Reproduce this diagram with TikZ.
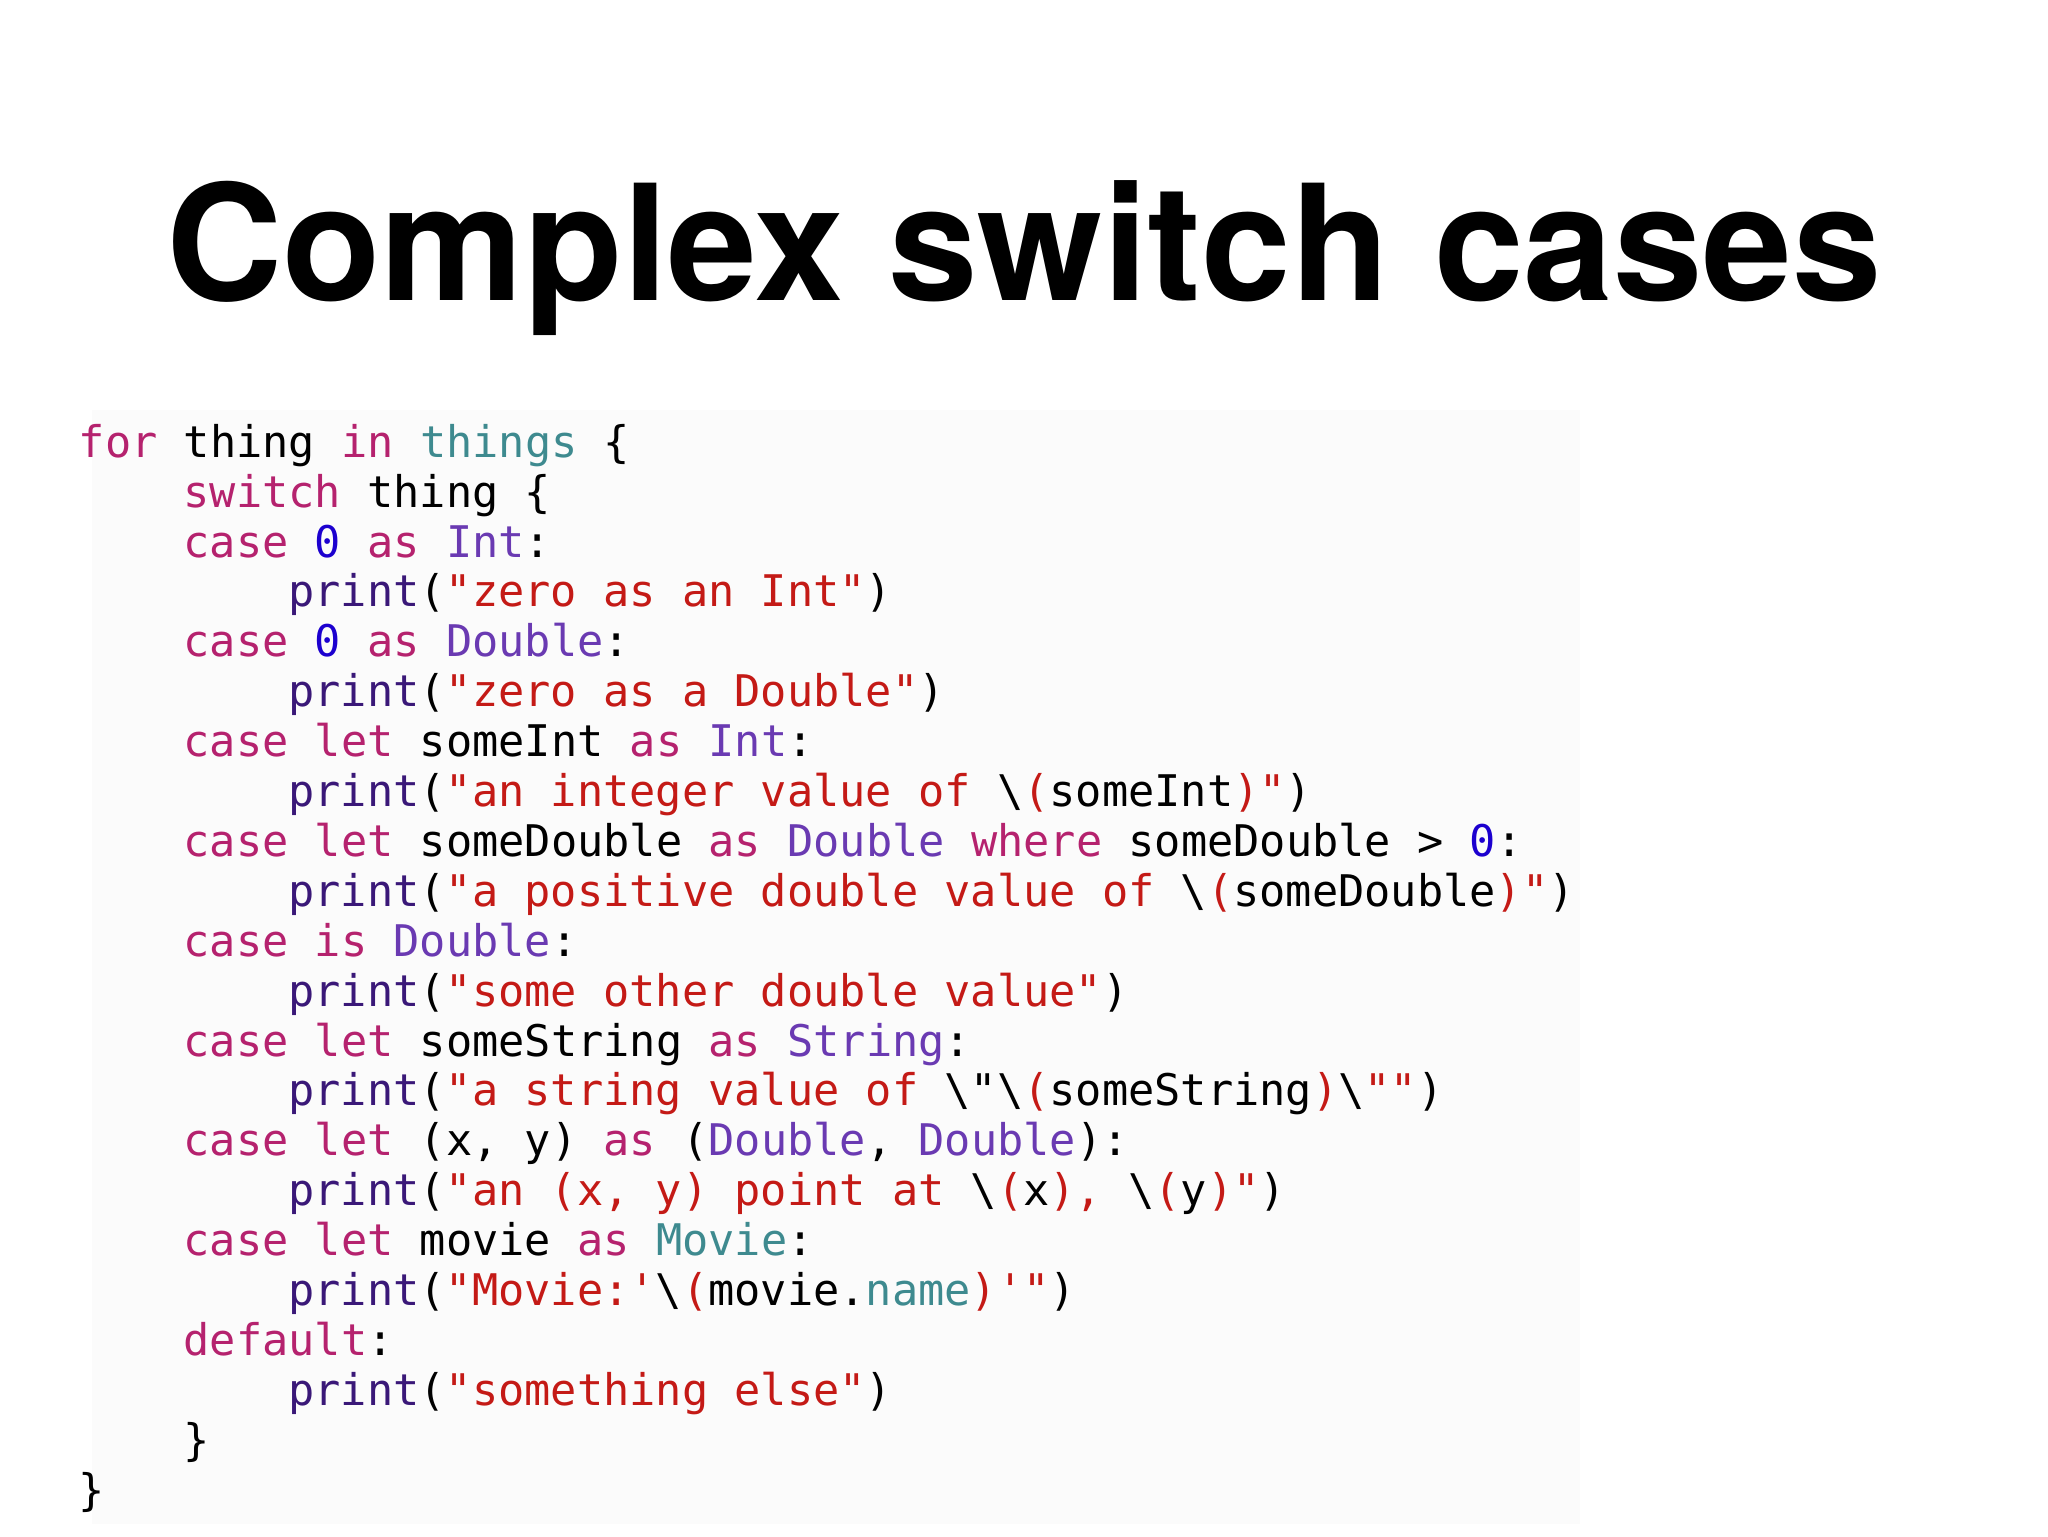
\documentclass[tikz,border=0pt]{standalone}
\usepackage{fontspec}
\setmainfont{TeX Gyre Heros}
\setmonofont{DejaVu Sans Mono}
\definecolor{kwc}{HTML}{B5226E}
\definecolor{tyc}{HTML}{6A3AB2}
\definecolor{stc}{HTML}{C41A16}
\definecolor{nmc}{HTML}{1C00CF}
\definecolor{prc}{HTML}{3A1878}
\definecolor{tlc}{HTML}{3E8A8F}
\newcommand{\kw}[1]{\textcolor{kwc}{#1}}
\newcommand{\ty}[1]{\textcolor{tyc}{#1}}
\newcommand{\st}[1]{\textcolor{stc}{#1}}
\newcommand{\nm}[1]{\textcolor{nmc}{#1}}
\newcommand{\pr}[1]{\textcolor{prc}{#1}}
\newcommand{\tl}[1]{\textcolor{tlc}{#1}}
\newcommand{\bs}{\textbackslash}
\begin{document}
\begin{tikzpicture}[x=1pt,y=1pt,
  code/.style={anchor=base west,inner sep=0pt,font=\ttfamily\fontsize{21.8}{25}\selectfont}]
\useasboundingbox (0,0) rectangle (1024,-768);
\fill[white] (0,0) rectangle (1024,-768);
\fill[black!1.5] (46,-205) rectangle (790,-762);
\node[anchor=base,inner sep=0pt,font=\bfseries\fontsize{80.5}{90}\selectfont] (title) at (512,-150) {Complex switch cases};
\def\cw{13.1}
\def\lh{24.95}
\newcommand{\cl}[3]{\node[code] (l#1) at (39.2+#2*\cw, -228.6-#1*\lh+\lh) {#3};}
\cl{1}{0}{\kw{for} thing \kw{in} \tl{things} \{}
\cl{2}{4}{\kw{switch} thing \{}
\cl{3}{4}{\kw{case} \nm{0} \kw{as} \ty{Int}:}
\cl{4}{8}{\pr{print}(\st{"zero as an Int"})}
\cl{5}{4}{\kw{case} \nm{0} \kw{as} \ty{Double}:}
\cl{6}{8}{\pr{print}(\st{"zero as a Double"})}
\cl{7}{4}{\kw{case} \kw{let} someInt \kw{as} \ty{Int}:}
\cl{8}{8}{\pr{print}(\st{"an integer value of }\bs\st{(}someInt\st{)"})}
\cl{9}{4}{\kw{case} \kw{let} someDouble \kw{as} \ty{Double} \kw{where} someDouble > \nm{0}:}
\cl{10}{8}{\pr{print}(\st{"a positive double value of }\bs\st{(}someDouble\st{)"})}
\cl{11}{4}{\kw{case} \kw{is} \ty{Double}:}
\cl{12}{8}{\pr{print}(\st{"some other double value"})}
\cl{13}{4}{\kw{case} \kw{let} someString \kw{as} \ty{String}:}
\cl{14}{8}{\pr{print}(\st{"a string value of }\bs"\bs\st{(}someString\st{)}\bs\st{""})}
\cl{15}{4}{\kw{case} \kw{let} (x, y) \kw{as} (\ty{Double}, \ty{Double}):}
\cl{16}{8}{\pr{print}(\st{"an (x, y) point at }\bs\st{(}x\st{), }\bs\st{(}y\st{)"})}
\cl{17}{4}{\kw{case} \kw{let} movie \kw{as} \tl{Movie}:}
\cl{18}{8}{\pr{print}(\st{"Movie:'}\bs\st{(}movie.\tl{name}\st{)'"})}
\cl{19}{4}{\kw{default}:}
\cl{20}{8}{\pr{print}(\st{"something else"})}
\cl{21}{4}{\}}
\cl{22}{0}{\}}
\end{tikzpicture}
\end{document}
